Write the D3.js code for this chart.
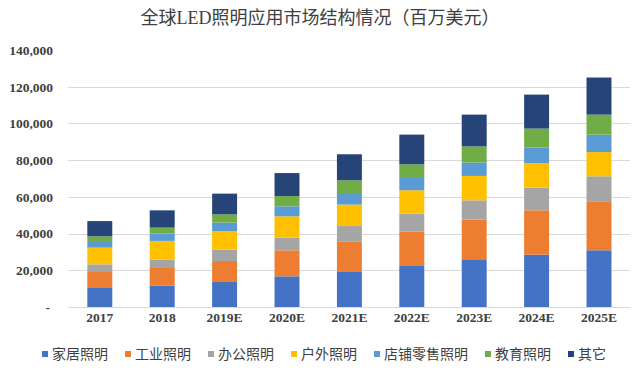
<!DOCTYPE html>
<html><head><meta charset="utf-8">
<script src="https://cdn.jsdelivr.net/npm/d3@7/dist/d3.min.js"></script>
<style>body{margin:0;background:#fff;}svg{display:block;}</style>
</head><body>
<svg id="c" width="640" height="373"></svg>
<script>
const categories = ["2017","2018","2019E","2020E","2021E","2022E","2023E","2024E","2025E"];
const seriesNames = ["家居照明","工业照明","办公照明","户外照明","店铺零售照明","教育照明","其它"];
const home      = [10350,11650,13600,16700,19450,22700,26000,28500,30900];
const industry  = [8700,9600,11450,14200,16350,18500,21600,24200,26700];
const office    = [4200,4550,6200,6900,8300,9700,10500,12300,13600];
const outdoor   = [9100,10200,10100,11600,11700,12700,13300,13400,13200];
const retail    = [3050,4000,4600,5450,6300,6700,7300,8400,9500];
const education = [3100,3250,4500,5600,6900,7400,8800,10400,10900];
const other     = [8300,9400,11300,12500,14200,16200,17300,18500,20200];
const yTicks = [0,20000,40000,60000,80000,100000,120000,140000];
const colors = ["#4472C4","#ED7D31","#A5A5A5","#FFC000","#5B9BD5","#70AD47","#264478"];

const seriesValues = [home,industry,office,outdoor,retail,education,other];
const table = categories.map((c,i)=>{const o={cat:c};seriesNames.forEach((n,j)=>o[n]=seriesValues[j][i]);return o;});
const stack = d3.stack().keys(seriesNames)(table);

const svg = d3.select("#c");
const x = d3.scaleBand().domain(categories).range([68.6,630.2]).paddingInner(0.6).paddingOuter(0.3);
const y = d3.scaleLinear().domain([0,140000]).range([307,50]);

const serif = "'Liberation Serif','Times New Roman',serif";
const cjk = "'Liberation Serif','Noto Sans CJK SC',sans-serif";

// title
svg.append("text").attr("x",320).attr("y",24).attr("text-anchor","middle")
  .style("font-family",cjk).style("font-size","18px").style("fill","#404040")
  .text("全球LED照明应用市场结构情况（百万美元）");

// gridlines
svg.append("g").selectAll("line").data(yTicks.filter(t=>t<140000)).join("line")
  .attr("x1",68).attr("x2",630).attr("y1",d=>Math.round(y(d))+0.5).attr("y2",d=>Math.round(y(d))+0.5)
  .attr("stroke","#d9d9d9").attr("stroke-width",1);

// y axis labels
const yAxis = d3.axisLeft(y).tickValues(yTicks).tickSize(0).tickPadding(0)
  .tickFormat(d=>d===0?"-":d3.format(",")(d));
const ya = svg.append("g").attr("transform","translate(53,0)").call(yAxis);
ya.select(".domain").remove();
ya.selectAll("text").style("font-family",serif).style("font-size","13.5px").style("font-weight","bold").style("fill","#404040");
ya.selectAll(".tick").filter(d=>d===0).select("text").attr("x",-3);

// bars
svg.append("g").selectAll("g").data(stack).join("g").attr("fill",(d,i)=>colors[i])
  .selectAll("rect").data(d=>d).join("rect")
  .attr("x",d=>x(d.data.cat)).attr("width",x.bandwidth())
  .attr("y",d=>y(d[1])).attr("height",d=>y(d[0])-y(d[1]));

// x axis labels
const xAxis = d3.axisBottom(x).tickSize(0).tickPadding(0);
const xa = svg.append("g").attr("transform","translate(0,312)").call(xAxis);
xa.select(".domain").remove();
xa.selectAll("text").style("font-family",serif).style("font-size","13.5px").style("font-weight","bold").style("fill","#404040");

// legend
const lg = svg.append("g");
let lx = 42;
seriesNames.forEach((n,i)=>{
  const g = lg.append("g").attr("transform",`translate(${lx},354)`);
  g.append("rect").attr("x",0).attr("y",-3).attr("width",6).attr("height",6).attr("fill",colors[i]);
  const t = g.append("text").attr("x",10).attr("y",5).style("font-family","'Noto Sans CJK SC',sans-serif")
    .style("font-size","14px").style("fill","#404040").text(n);
  lx += 10 + t.node().getComputedTextLength() + 17;
});
</script>
</body></html>
